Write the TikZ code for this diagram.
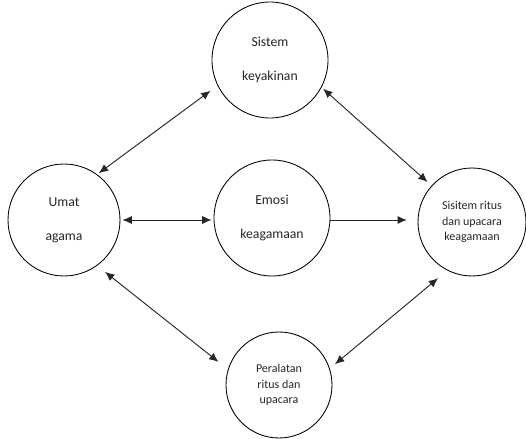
\documentclass[tikz,border=0pt]{standalone}
\usepackage{fontspec}
\setmainfont{Carlito}
\usetikzlibrary{arrows.meta}

\tikzset{
	bulat/.style={circle, draw, line width=0.65pt, inner sep=0pt, align=center,
		text=black!85, font=\fontsize{10.3}{25.5}\selectfont},
	bulatkecil/.style={bulat, font=\fontsize{9}{11.5}\selectfont},
	garis/.style={line width=0.7pt, black!85},
	panah/.style={garis, {Latex[length=7pt,width=6pt]}-{Latex[length=7pt,width=6pt]}},
	panahsatu/.style={garis, -{Latex[length=7pt,width=6pt]}}
}

\begin{document}
\begin{tikzpicture}[x=0.75pt,y=-0.75pt]

\useasboundingbox (0,0) rectangle (526,439);

% lingkaran
\node[bulat, minimum size=84pt] (umat) at (64,220) {Umat\\agama};
\node[bulat, minimum size=87pt] (sistem) at (270,60) {Sistem\\keyakinan};
\node[bulat, minimum size=87pt] (emosi) at (272,218) {Emosi\\keagamaan};
\node[bulatkecil, minimum size=81pt] (ritus) at (472,222) {Sisitem ritus\\dan upacara\\keagamaan};
\node[bulatkecil, minimum size=79.5pt] (alat) at (279,385) {Peralatan\\ritus dan\\upacara};

% panah
\draw[panah, shorten <=1.5pt, shorten >=6.5pt] (umat.54) -- (sistem.206);
\draw[panah, shorten <=1.5pt, shorten >=4pt] (sistem.332) -- (ritus.138);
\draw[panah, shorten <=1.5pt, shorten >=1.5pt] (umat.east) -- (umat.east -| emosi.west);
\draw[panahsatu, shorten >=8pt] (emosi.east |- umat.east) -- (umat.east -| ritus.west);
\draw[panah, shorten <=7.5pt, shorten >=9pt] (umat.306) -- (alat.163);
\draw[panah, shorten <=5pt, shorten >=9pt] (alat.18) -- (ritus.243);

\end{tikzpicture}
\end{document}
